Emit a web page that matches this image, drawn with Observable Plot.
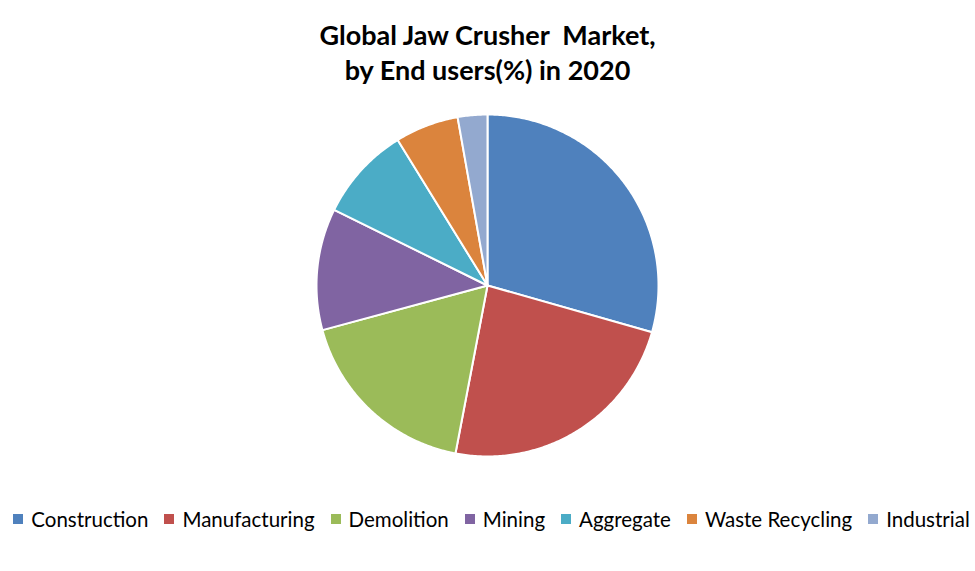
<!DOCTYPE html>
<html>
<head>
<meta charset="utf-8">
<script src="https://cdn.jsdelivr.net/npm/d3@7"></script>
<script src="https://cdn.jsdelivr.net/npm/@observablehq/plot@0.6"></script>
<style>
  html, body { margin: 0; padding: 0; background: #fff; }
  body { width: 975px; height: 571px; overflow: hidden; font-family: Lato, "Open Sans", sans-serif; }
  #title { height: 100px; box-sizing: border-box; padding-top: 17px; text-align: center; font-weight: bold; font-size: 27px; line-height: 35px; color: #000; white-space: pre; }
  #chart svg { display: block; }
  #legend { height: 98px; box-sizing: border-box; padding-top: 0; padding-left: 8px; display: flex; justify-content: center; align-items: center; font-size: 20.5px; color: #000; white-space: nowrap; }
  .item { display: flex; align-items: center; margin: 0 8px; }
  .sw { width: 10px; height: 10px; margin-right: 8px; }
</style>
</head>
<body>
<div id="title">Global Jaw Crusher  Market,
by End users(%) in 2020</div>
<div id="chart"></div>
<div id="legend"></div>
<script>
const categories = ["Construction", "Manufacturing", "Demolition", "Mining", "Aggregate", "Waste Recycling", "Industrial"];
const shares = [29.4, 23.6, 17.8, 11.5, 8.9, 6.0, 2.8];
const colors = ["#4F81BD", "#C0504D", "#9BBB59", "#8064A2", "#4BACC6", "#DB843D", "#93A9CF"];

const data = categories.map((c, i) => ({category: c, value: shares[i]}));
const arcs = d3.pie().sort(null).value(d => d.value)(data);

// polygon outline of each slice on the unit circle
const pts = [];
arcs.forEach(a => {
  const c = a.data.category;
  pts.push({category: c, x: 0, y: 0});
  const n = Math.max(2, Math.ceil((a.endAngle - a.startAngle) / 0.01));
  for (let k = 0; k <= n; k++) {
    const t = a.startAngle + (a.endAngle - a.startAngle) * k / n;
    pts.push({category: c, x: Math.sin(t), y: Math.cos(t)});
  }
  pts.push({category: c, x: 0, y: 0});
});

const chart = Plot.plot({
  width: 975,
  height: 370,
  marginLeft: 316,
  marginRight: 317,
  marginTop: 14,
  marginBottom: 14,
  x: {domain: [-1, 1], axis: null},
  y: {domain: [-1, 1], axis: null},
  color: {domain: categories, range: colors},
  marks: [
    Plot.line(pts, {x: "x", y: "y", z: "category", fill: "category", stroke: "white", strokeWidth: 2, strokeLinejoin: "round", curve: "linear"})
  ]
});
document.getElementById("chart").appendChild(chart);

const legend = document.getElementById("legend");
categories.forEach((c, i) => {
  const it = document.createElement("div");
  it.className = "item";
  const sw = document.createElement("span");
  sw.className = "sw";
  sw.style.background = colors[i];
  const tx = document.createElement("span");
  tx.textContent = c;
  it.appendChild(sw);
  it.appendChild(tx);
  legend.appendChild(it);
});
</script>
</body>
</html>
